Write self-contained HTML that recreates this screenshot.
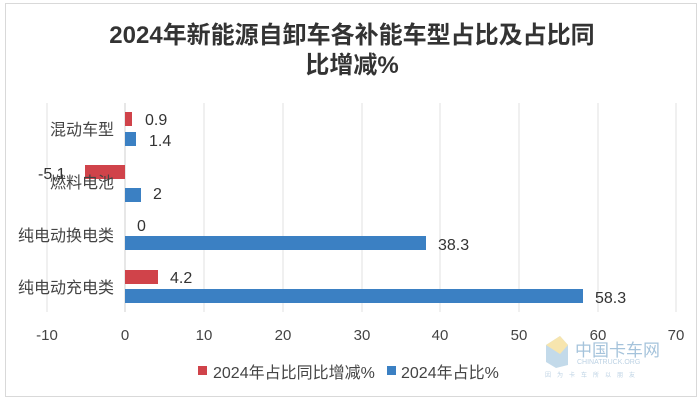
<!DOCTYPE html>
<html><head><meta charset="utf-8"><style>
body{margin:0;background:#fff;}
svg text{font-family:"Liberation Sans","Noto Sans CJK SC",sans-serif;}
</style></head><body>
<svg width="700" height="403" xmlns="http://www.w3.org/2000/svg">
<rect x="5.5" y="3.5" width="691" height="393" fill="#fff" stroke="#d9d9d9"/>
<text x="352" y="43" text-anchor="middle" font-size="24" font-weight="bold" fill="#333">2024年新能源自卸车各补能车型占比及占比同</text>
<text x="352" y="73" text-anchor="middle" font-size="24" font-weight="bold" fill="#333">比增减%</text>
<g stroke="#e0e0e0" stroke-width="1">
<line x1="47" y1="103" x2="47" y2="312"/><line x1="204" y1="103" x2="204" y2="312"/>
<line x1="283" y1="103" x2="283" y2="312"/><line x1="362" y1="103" x2="362" y2="312"/>
<line x1="440" y1="103" x2="440" y2="312"/><line x1="519" y1="103" x2="519" y2="312"/>
<line x1="598" y1="103" x2="598" y2="312"/><line x1="676" y1="103" x2="676" y2="312"/>
</g>
<line x1="125" y1="103" x2="125" y2="312" stroke="#cfcfcf"/>
<g fill="#d0434a">
<rect x="125" y="112" width="7" height="14"/>
<rect x="85" y="165" width="40" height="14"/>
<rect x="125" y="270" width="33" height="14"/>
</g>
<g fill="#3b80c3">
<rect x="125" y="132" width="11" height="14"/>
<rect x="125" y="188" width="16" height="14"/>
<rect x="125" y="236" width="301" height="14"/>
<rect x="125" y="289" width="458" height="14"/>
</g>
<g font-size="16" fill="#333">
<text x="145" y="125">0.9</text><text x="149" y="146">1.4</text>
<text x="38" y="179">-5.1</text><text x="153" y="199">2</text>
<text x="137" y="231">0</text><text x="438" y="250">38.3</text>
<text x="170" y="283">4.2</text><text x="595" y="303">58.3</text>
</g>
<g font-size="16" fill="#444" text-anchor="end">
<text x="114" y="135">混动车型</text><text x="114" y="188">燃料电池</text>
<text x="114" y="241">纯电动换电类</text><text x="114" y="293">纯电动充电类</text>
</g>
<g font-size="15" fill="#444" text-anchor="middle">
<text x="47" y="340">-10</text><text x="125" y="340">0</text><text x="204" y="340">10</text>
<text x="283" y="340">20</text><text x="362" y="340">30</text><text x="440" y="340">40</text>
<text x="519" y="340">50</text><text x="598" y="340">60</text><text x="676" y="340">70</text>
</g>
<rect x="198" y="366" width="9" height="9" fill="#d0434a"/>
<text x="213" y="378" font-size="16" fill="#444">2024年占比同比增减%</text>
<rect x="387" y="366" width="9" height="9" fill="#3b80c3"/>
<text x="401" y="378" font-size="16" fill="#444">2024年占比%</text>
<g opacity="0.6">
<polygon points="546,345 560,336 568,345 568,365 556,368 546,362" fill="#9cc3dd"/>
<polygon points="546,345 560,354 568,345 560,336" fill="#f3d57a"/>
<text x="575" y="356" font-size="17" fill="#6a9cc4">中国卡车网</text>
<text x="577" y="364" font-size="7" fill="#8fb3d1">CHINATRUCK.ORG</text>
<text x="545" y="377" font-size="6" fill="#8fb3d1" letter-spacing="6">因为卡车所以朋友</text>
</g>
</svg>
</body></html>
